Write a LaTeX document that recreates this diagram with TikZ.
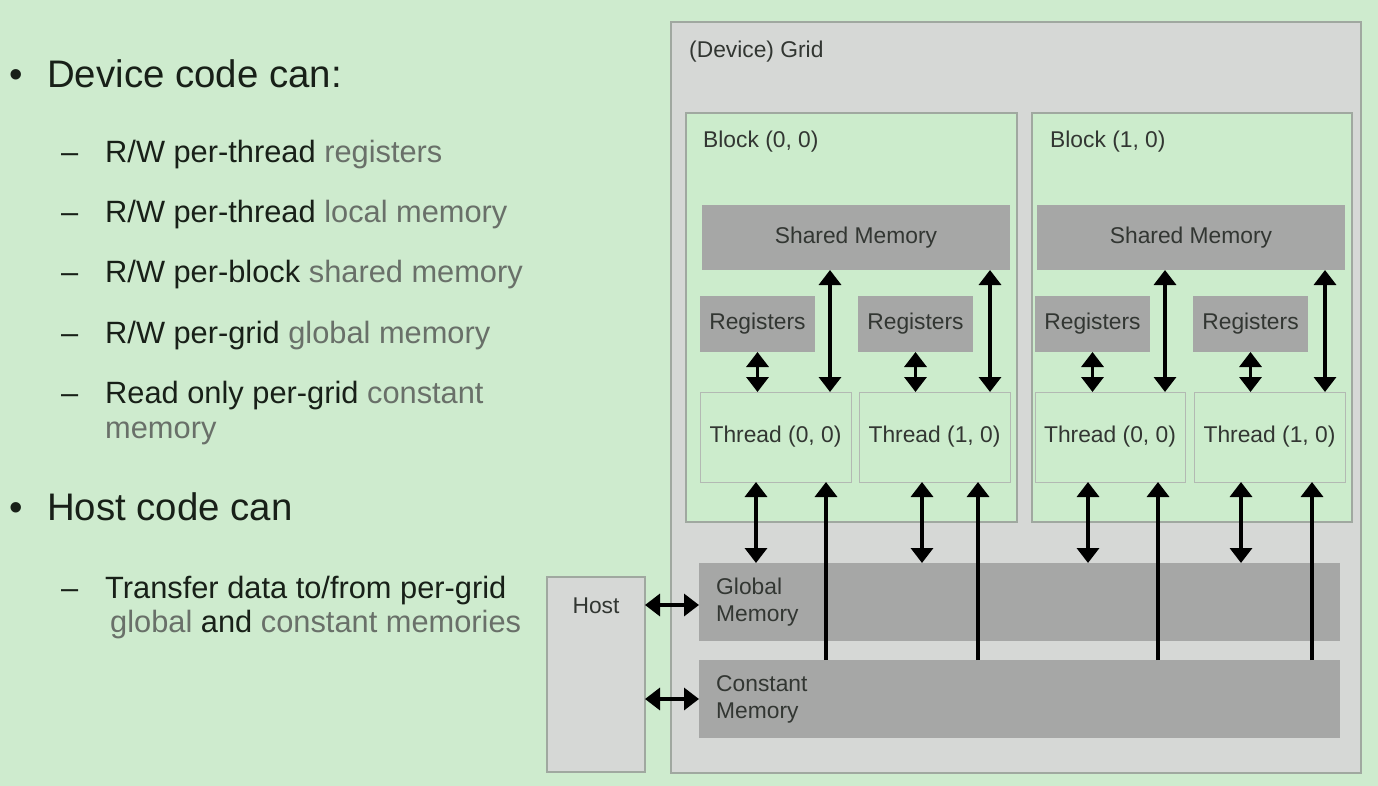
\documentclass[tikz,border=0pt]{standalone}
\usepackage{fontspec}
\setmainfont{Liberation Sans}
\usetikzlibrary{arrows.meta,calc}
\definecolor{bggreen}{RGB}{206,235,206}
\definecolor{blockgreen}{RGB}{204,236,204}
\definecolor{gridgray}{RGB}{214,216,214}
\definecolor{edgegray}{RGB}{160,168,160}
\definecolor{memgray}{RGB}{166,167,166}
\definecolor{txtdark}{RGB}{24,32,24}
\definecolor{txtgray}{RGB}{105,112,105}
\definecolor{dtxt}{RGB}{50,54,50}
\tikzset{
  box/.style={draw=edgegray, line width=1.2pt, inner sep=0pt, outer sep=0pt},
  gridbox/.style={box, fill=gridgray},
  blockbox/.style={box, fill=blockgreen},
  membox/.style={fill=memgray, draw=none, inner sep=0pt, outer sep=0pt},
  threadbox/.style={draw=edgegray!80, line width=0.8pt, fill=blockgreen, inner sep=0pt, outer sep=0pt},
  dlabel/.style={font=\fontsize{22.8}{27}\selectfont, text=dtxt, inner sep=0pt},
  bigtxt/.style={font=\fontsize{38.4}{44}\selectfont, text=txtdark, inner sep=0pt, anchor=base west},
  itemtxt/.style={font=\fontsize{30.8}{34}\selectfont, text=txtdark, inner sep=0pt, anchor=base west},
  dbl/.style={line width=3.4pt, {Triangle[width=22pt,length=15pt]}-{Triangle[width=22pt,length=15pt]}},
  upar/.style={line width=3.4pt, -{Triangle[width=22pt,length=15pt]}},
}
\newcommand{\gw}[1]{\textcolor{txtgray}{#1}}
\begin{document}
\begin{tikzpicture}[x=1pt,y=-1pt]
\useasboundingbox[fill=bggreen] (0,0) rectangle (1378,786);
% left text
\node[bigtxt] (b1) at (9,88) {•};
\node[bigtxt] (t1) at (47,88) {Device code can:};
\node[itemtxt] (d1) at (61,163) {–};
\node[itemtxt] (i1) at (105,163) {R/W per-thread \gw{registers}};
\node[itemtxt] (d2) at (61,223) {–};
\node[itemtxt] (i2) at (105,223) {R/W per-thread \gw{local memory}};
\node[itemtxt] (d3) at (61,283) {–};
\node[itemtxt] (i3) at (105,283) {R/W per-block \gw{shared memory}};
\node[itemtxt] (d4) at (61,343) {–};
\node[itemtxt] (i4) at (105,343) {R/W per-grid \gw{global memory}};
\node[itemtxt] (d5) at (61,403) {–};
\node[itemtxt] (i5) at (105,403) {Read only per-grid \gw{constant}};
\node[itemtxt] (i5b) at (105,438) {\gw{memory}};
\node[bigtxt] (b2) at (9,520) {•};
\node[bigtxt] (t2) at (47,520) {Host code can};
\node[itemtxt] (d6) at (61,598) {–};
\node[itemtxt] (i6) at (105,598) {Transfer data to/from per-grid};
\node[itemtxt] (i6b) at (110,632) {\gw{global} and \gw{constant memories}};
% grid
\node[gridbox, minimum width=690pt, minimum height=751pt] (grid) at (1016,397.5) {};
\node[dlabel, anchor=base west] (gridl) at (689,58) {(Device) Grid};
% blocks
\node[blockbox, minimum width=331pt, minimum height=409pt] (blk0) at (851.5,317.5) {};
\node[blockbox, minimum width=320pt, minimum height=409pt] (blk1) at (1192,317.5) {};
\node[dlabel, anchor=base west] (blk0l) at (703,148) {Block (0, 0)};
\node[dlabel, anchor=base west] (blk1l) at (1050,148) {Block (1, 0)};
% shared
\node[membox, minimum width=308pt, minimum height=65pt] (sh0) at (856,237.5) {};
\node[dlabel] at (sh0) {Shared Memory};
\node[membox, minimum width=308pt, minimum height=65pt] (sh1) at (1191,237.5) {};
\node[dlabel] at (sh1) {Shared Memory};
% registers
\foreach \n/\x in {r00/757.5, r10/915.5, r01/1092.5, r11/1250.5}{
  \node[membox, minimum width=115pt, minimum height=56pt] (\n) at (\x,324) {};
  \node[dlabel] at (\n) {Registers};
}
% threads
\node[threadbox, minimum width=151pt, minimum height=90pt] (th00) at (775.5,437) {};
\node[dlabel] at (th00) {Thread (0, 0)};
\node[threadbox, minimum width=151pt, minimum height=90pt] (th10) at (934.5,437) {};
\node[dlabel] at (th10) {Thread (1, 0)};
\node[threadbox, minimum width=150pt, minimum height=90pt] (th01) at (1110,437) {};
\node[dlabel] at (th01) {Thread (0, 0)};
\node[threadbox, minimum width=151pt, minimum height=90pt] (th11) at (1269.5,437) {};
\node[dlabel] at (th11) {Thread (1, 0)};
% global / constant
\node[membox, minimum width=641pt, minimum height=78pt] (glob) at (1019.5,602) {};
\node[dlabel, anchor=west, align=left] at ([xshift=17pt]glob.west) {Global\\Memory};
\node[membox, minimum width=641pt, minimum height=78pt] (cons) at (1019.5,699) {};
\node[dlabel, anchor=west, align=left] at ([xshift=17pt]cons.west) {Constant\\Memory};
% host
\node[gridbox, minimum width=98pt, minimum height=195pt] (host) at (596,674.5) {};
\node[dlabel, anchor=base] at (596,613) {Host};
% register-thread arrows
\foreach \r/\t in {r00/th00, r10/th10, r01/th01, r11/th11}{
  \draw[dbl] (\r.south) -- (\r.south |- \t.north);
}
% shared-thread arrows
\draw[dbl] ([xshift=-21pt]th00.north east |- sh0.south) -- ([xshift=-21pt]th00.north east);
\draw[dbl] ([xshift=-20pt]th10.north east |- sh0.south) -- ([xshift=-20pt]th10.north east);
\draw[dbl] ([xshift=-20pt]th01.north east |- sh1.south) -- ([xshift=-20pt]th01.north east);
\draw[dbl] ([xshift=-20pt]th11.north east |- sh1.south) -- ([xshift=-20pt]th11.north east);
% thread-global arrows
\draw[dbl] ([xshift=56pt]th00.south west) -- ([xshift=56pt]th00.south west |- glob.north);
\draw[dbl] ([xshift=63pt]th10.south west) -- ([xshift=63pt]th10.south west |- glob.north);
\draw[dbl] ([xshift=53pt]th01.south west) -- ([xshift=53pt]th01.south west |- glob.north);
\draw[dbl] ([xshift=47pt]th11.south west) -- ([xshift=47pt]th11.south west |- glob.north);
% constant-thread arrows
\draw[upar] ([xshift=-25pt]th00.south east |- cons.north) -- ([xshift=-25pt]th00.south east);
\draw[upar] ([xshift=-32pt]th10.south east |- cons.north) -- ([xshift=-32pt]th10.south east);
\draw[upar] ([xshift=-27pt]th01.south east |- cons.north) -- ([xshift=-27pt]th01.south east);
\draw[upar] ([xshift=-33pt]th11.south east |- cons.north) -- ([xshift=-33pt]th11.south east);
% host arrows
\draw[dbl] (host.east |- 0,605) -- (glob.west |- 0,605);
\draw[dbl] (host.east |- cons.west) -- (cons.west);
\end{tikzpicture}
\end{document}
